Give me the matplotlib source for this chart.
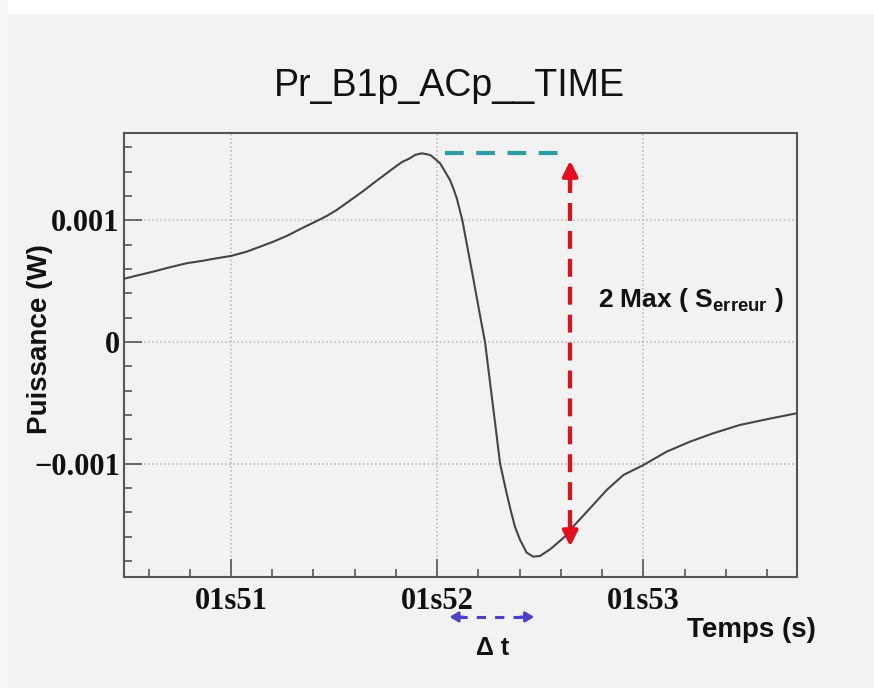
import numpy as np
import matplotlib.pyplot as plt
from matplotlib.ticker import FixedLocator, MultipleLocator
from matplotlib.patches import Rectangle

# data (time in s, power in W)
time_s = [50.478, 50.542, 50.623, 50.704, 50.785, 50.866, 50.931, 51.000, 51.076,
          51.141, 51.205, 51.270, 51.343, 51.416, 51.464, 51.513, 51.593, 51.642,
          51.690, 51.739, 51.787, 51.828, 51.868, 51.893, 51.925, 51.965, 51.973,
          52.014, 52.062, 52.078, 52.095, 52.122, 52.143, 52.173, 52.188, 52.213,
          52.232, 52.248, 52.270, 52.284, 52.305, 52.335, 52.353, 52.377, 52.402,
          52.434, 52.466, 52.499, 52.547, 52.563, 52.628, 52.644, 52.741, 52.822,
          52.903, 53.000, 53.113, 53.226, 53.339, 53.468, 53.598, 53.743]
power_w = [0.000518, 0.000545, 0.000578, 0.000614, 0.000647, 0.000668, 0.000688,
           0.000707, 0.000742, 0.000783, 0.000824, 0.000871, 0.000934, 0.000994,
           0.001035, 0.001085, 0.001181, 0.001241, 0.001304, 0.001366, 0.001427,
           0.001477, 0.001510, 0.001537, 0.001550, 0.001537, 0.001528, 0.001468,
           0.001331, 0.001263, 0.001180, 0.001000, 0.000810, 0.000540, 0.000400,
           0.000170, 0.000000, -0.000220, -0.000520, -0.000710, -0.001000,
           -0.001230, -0.001360, -0.001518, -0.001627, -0.001731, -0.001764,
           -0.001758, -0.001704, -0.001682, -0.001586, -0.001545, -0.001367,
           -0.001216, -0.001093, -0.001011, -0.000901, -0.000819, -0.000750,
           -0.000682, -0.000635, -0.000586]

xtick_vals = [51, 52, 53]
xtick_labels = ['01s51', '01s52', '01s53']
ytick_vals = [-0.001, 0.0, 0.001]
ytick_labels = ['\u22120.001', '0', '0.001']

# annotation markers
max_level = 0.00155
arrow_x = 52.645
arrow_top = 0.00149
arrow_bot = -0.00168
teal_x0, teal_x1 = 52.04, 52.59
dt_x0, dt_x1 = 52.06, 52.47

bg = '#f2f2f2'
red = '#e3101c'
teal = '#2c9ea3'
blue = '#4b3fcc'

fig = plt.figure(figsize=(8.74, 6.88), dpi=100, facecolor=bg)
fig.patches.append(Rectangle((0, 1 - 14 / 688), 1, 14 / 688, transform=fig.transFigure,
                             facecolor='white', edgecolor='none', zorder=0))
fig.patches.append(Rectangle((0, 0), 8 / 874, 1, transform=fig.transFigure,
                             facecolor='#f8f8f8', edgecolor='none', zorder=0))

ax = fig.add_axes([124 / 874, 1 - 577 / 688, 673 / 874, 444 / 688])
ax.set_facecolor(bg)

ax.plot(time_s, power_w, color='#454545', lw=1.5, zorder=3)

ax.set_xlim(50.481, 53.745)
ax.set_ylim(-0.001931, 0.001717)

# ticks
ax.xaxis.set_major_locator(FixedLocator(xtick_vals))
ax.xaxis.set_minor_locator(MultipleLocator(0.2))
ax.set_xticklabels(xtick_labels)
ax.yaxis.set_major_locator(FixedLocator(ytick_vals))
ax.yaxis.set_minor_locator(MultipleLocator(0.0002))
ax.set_yticklabels(ytick_labels)
ax.tick_params(which='both', direction='in', top=False, right=False, color='#555555')
ax.tick_params(which='major', length=13, width=1.2)
ax.tick_params(which='minor', length=6, width=1.2)
ax.tick_params(axis='x', pad=7)
ax.tick_params(axis='y', pad=3)
for lab in ax.get_xticklabels() + ax.get_yticklabels():
    lab.set_fontfamily('Liberation Serif')
    lab.set_fontweight('bold')
    lab.set_fontsize(22)
    lab.set_color('#111111')

for sp in ax.spines.values():
    sp.set_color('#555555')
    sp.set_linewidth(1.5)

ax.grid(which='major', linestyle=':', color='#b4b4b4', lw=1.1)

# labels
fig.text(449.5 / 874, 1 - 96 / 688, 'Pr_B1p_ACp__TIME', ha='center', va='baseline',
         fontfamily='Liberation Sans', fontsize=27, color='#111111')
fig.text(40 / 874, 1 - 339 / 688, 'Puissance (W)', rotation=90, ha='center', va='center',
         fontfamily='Liberation Sans', fontweight='bold', fontsize=20, color='#111111')
fig.text(751 / 874, 1 - 630 / 688, 'Temps (s)', ha='center', va='center',
         fontfamily='Liberation Sans', fontweight='bold', fontsize=20, color='#111111')

plt.rcParams['mathtext.fontset'] = 'custom'
plt.rcParams['mathtext.rm'] = 'Liberation Sans'
plt.rcParams['mathtext.bf'] = 'Liberation Sans:bold'
ax.text(52.78, 0.000345, r'2 Max ( S$_{\mathbf{erreur}}$ )', ha='left', va='center',
        fontfamily='Liberation Sans', fontweight='bold', fontsize=19, color='#111111')

# teal level of the maximum
ax.plot([teal_x0, teal_x1], [max_level, max_level], color=teal, lw=3,
        dashes=(4.5, 3), solid_capstyle='butt', zorder=4)

# red double arrow
ax.plot([arrow_x, arrow_x], [arrow_bot + 0.00015, arrow_top - 0.00015], color=red, lw=3,
        dashes=(4.3, 2.4), zorder=4)
for tip, off in [(arrow_top, -18), (arrow_bot, 18)]:
    ax.annotate('', xy=(arrow_x, tip), xytext=(0, off), textcoords='offset points',
                arrowprops=dict(arrowstyle='-|>,head_length=0.9,head_width=0.45',
                                color=red, lw=3, shrinkA=0, shrinkB=0), zorder=5)

# delta t arrow under the axis
trans = ax.get_xaxis_transform()
ax.plot([dt_x0 + 0.04, dt_x1 - 0.04], [-0.09, -0.09], color=blue, lw=2.2,
        dashes=(3, 3), transform=trans, clip_on=False)
for tip, off in [(dt_x0, 10), (dt_x1, -10)]:
    ax.annotate('', xy=(tip, -0.09), xycoords=trans, xytext=(off, 0),
                textcoords='offset points',
                arrowprops=dict(arrowstyle='-|>,head_length=0.5,head_width=0.3',
                                color=blue, lw=2, shrinkA=0, shrinkB=0),
                annotation_clip=False)
ax.text(52.27, -0.16, '\u0394 t', transform=trans, ha='center', va='center',
        fontfamily='Liberation Sans', fontweight='bold', fontsize=18, color='#111111')

fig.savefig('out.png', dpi=100, facecolor=bg)
